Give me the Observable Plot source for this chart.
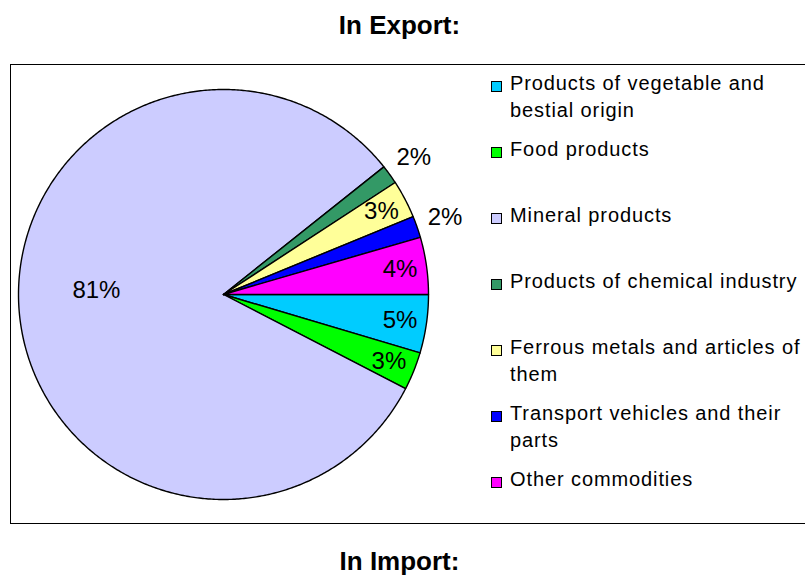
<!DOCTYPE html>
<html>
<head>
<meta charset="utf-8">
<script src="https://cdn.jsdelivr.net/npm/d3@7"></script>
<script src="https://cdn.jsdelivr.net/npm/@observablehq/plot@0.6"></script>
<style>
  html, body { margin: 0; padding: 0; background: #fff; }
  body { width: 805px; height: 577px; position: relative; overflow: hidden;
         font-family: "Liberation Sans", Arial, sans-serif; color: #000; }
  .title { position: absolute; left: -3px; width: 805px; text-align: center;
           font-weight: bold; font-size: 26px; line-height: 30px; }
  #box { position: absolute; left: 10px; top: 64px; width: 820px; height: 460px;
         box-sizing: border-box; border: 1px solid #000; }
  #chart { position: absolute; left: 0; top: 64px; }
  #legend { position: absolute; left: 0; top: 0; }
  .entry { position: absolute; left: 491px; }
  .swatch { position: absolute; left: 0; top: 10.5px; width: 11px; height: 11px;
            box-sizing: border-box; border: 1px solid #000; }
  .label { position: absolute; left: 19px; top: 0; white-space: nowrap;
           font-size: 20px; letter-spacing: 0.9px; line-height: 27px; }
</style>
</head>
<body>
<div class="title" style="top:10px">In Export:</div>
<div id="box"></div>
<div id="chart"></div>
<div id="legend"></div>
<div class="title" style="top:546px">In Import:</div>
<script>
// ---- data ----
const categories = [
  "Products of vegetable and bestial origin",
  "Food products",
  "Mineral products",
  "Products of chemical industry",
  "Ferrous metals and articles of them",
  "Transport vehicles and their parts",
  "Other commodities"
];
const legendLines = [
  ["Products of vegetable and", "bestial origin"],
  ["Food products"],
  ["Mineral products"],
  ["Products of chemical industry"],
  ["Ferrous metals and articles of", "them"],
  ["Transport vehicles and their", "parts"],
  ["Other commodities"]
];
const shares = [4.6, 3.0, 81.7, 1.5, 3.0, 1.7, 4.5];
const percentLabels = ["5%", "3%", "81%", "2%", "3%", "2%", "4%"];
const colors = ["#00CCFF", "#00FF00", "#CCCCFF", "#339966", "#FFFF99", "#0000FF", "#FF00FF"];

// ---- layout ----
const R = 205;
const table = categories.map((c, i) => ({category: c, share: shares[i], label: percentLabels[i]}));
const arcs = d3.pie().sort(null).value(d => d.share)
  .startAngle(Math.PI / 2).endAngle(Math.PI / 2 + 2 * Math.PI)(table);

const slicePoints = [];
for (const a of arcs) {
  const cat = a.data.category;
  slicePoints.push({category: cat, x: 0, y: 0});
  const n = Math.max(2, Math.ceil((a.endAngle - a.startAngle) / (Math.PI / 360)));
  for (let k = 0; k <= n; k++) {
    const t = a.startAngle + (a.endAngle - a.startAngle) * k / n;
    slicePoints.push({category: cat, x: R * Math.sin(t), y: -R * Math.cos(t)});
  }
  slicePoints.push({category: cat, x: 0, y: 0});
}

const total = d3.sum(shares);
const labelData = arcs.map(a => {
  const pct = a.data.share / total * 100;
  if (pct > 50) {
    // dominant slice: label placed on the side opposite the small slices
    return {x: -0.62 * R, y: -0.02 * R, text: a.data.label};
  }
  const f = pct < 1.8 ? 1.145 : 0.87;
  const m = (a.startAngle + a.endAngle) / 2;
  return {x: f * R * Math.sin(m), y: -f * R * Math.cos(m), text: a.data.label};
});

const chart = Plot.plot({
  width: 480,
  height: 460,
  margin: 0,
  style: {fontFamily: "'Liberation Sans', Arial, sans-serif", background: "transparent"},
  x: {domain: [-223, 257], range: [0, 480], axis: null},
  y: {domain: [-230, 230], range: [0, 460], axis: null},
  color: {domain: categories, range: colors},
  marks: [
    Plot.line(slicePoints, {x: "x", y: "y", z: "category", fill: "category",
      stroke: "#000", strokeWidth: 1.4, strokeLinejoin: "round"}),
    Plot.text(labelData, {x: "x", y: "y", text: "text", fontSize: 24, fill: "#000"})
  ]
});
document.getElementById("chart").appendChild(chart);

// ---- legend ----
const legend = document.getElementById("legend");
categories.forEach((c, i) => {
  const e = document.createElement("div");
  e.className = "entry";
  e.style.top = (70 + 66 * i) + "px";
  const sw = document.createElement("div");
  sw.className = "swatch";
  sw.style.background = colors[i];
  const lb = document.createElement("div");
  lb.className = "label";
  lb.innerHTML = legendLines[i].join("<br>");
  e.appendChild(sw);
  e.appendChild(lb);
  legend.appendChild(e);
});
</script>
</body>
</html>
